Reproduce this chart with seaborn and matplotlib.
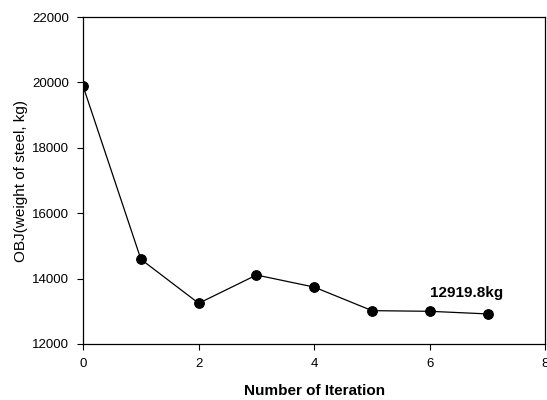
import matplotlib
matplotlib.use("Agg")
import matplotlib.pyplot as plt
import seaborn as sns
import pandas as pd

# values
iterations = [0, 1, 2, 3, 4, 5, 6, 7]
steel_weight = [19880, 14590, 13245, 14110, 13740, 13020, 13000, 12919.8]
final_label = "12919.8kg"

sns.set_theme(style="ticks")
plt.rcParams["font.family"] = ["Liberation Sans", "DejaVu Sans"]
plt.rcParams["text.color"] = "black"

df = pd.DataFrame({"iteration": iterations, "weight": steel_weight})

fig = plt.figure(figsize=(5.47, 4.0), dpi=100)
ax = fig.add_axes([0.152, 0.14, 0.845, 0.8175])

sns.lineplot(data=df, x="iteration", y="weight", ax=ax, color="black",
             linewidth=0.9, marker="o", markersize=7, markeredgecolor="black",
             markerfacecolor="black")

ax.set_xlim(0, 8)
ax.set_ylim(12000, 22000)
ax.set_xticks([0, 2, 4, 6, 8])
ax.set_yticks([12000, 14000, 16000, 18000, 20000, 22000])
ax.tick_params(axis="both", labelsize=9.5, direction="out", length=4, width=0.8,
               color="black", labelcolor="black", pad=6)
for s in ax.spines.values():
    s.set_color("black")
    s.set_linewidth(0.9)

ax.set_xlabel("Number of Iteration", fontsize=11, fontweight="bold",
              labelpad=10, color="black")
ax.set_ylabel("OBJ(weight of steel, kg)", fontsize=11, labelpad=3, color="black")

ax.text(6.64, 13570, final_label, fontsize=11, fontweight="bold",
        ha="center", va="center", color="black")

fig.savefig("out.png", dpi=100)
